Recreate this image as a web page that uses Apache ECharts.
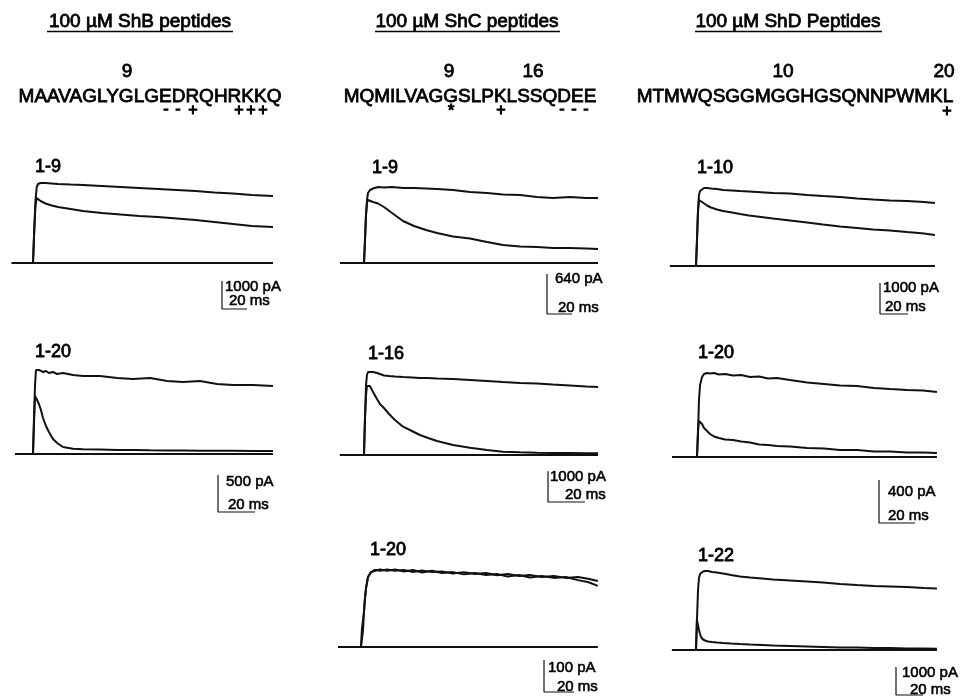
<!DOCTYPE html>
<html><head><meta charset="utf-8">
<script src="https://cdn.jsdelivr.net/npm/echarts/dist/echarts.min.js"></script>
<style>html,body{margin:0;padding:0;background:#fff}#c{width:960px;height:698px}</style>
</head><body><div id="c"></div><script>
// ---------- text content ----------
const columnTitles = ['100 µM ShB peptides', '100 µM ShC peptides', '100 µM ShD Peptides'];
const sequences = ['MAAVAGLYGLGEDRQHRKKQ', 'MQMILVAGGSLPKLSSQDEE', 'MTMWQSGGMGGHGSQNNPWMKL'];
const positionNumbers = ['9', '9', '16', '10', '20'];
const chargeMarks = ['-', '-', '+', '+', '+', '+', '*', '+', '-', '-', '-', '+'];
const panelLabels = ['1-9', '1-20', '1-9', '1-16', '1-20', '1-10', '1-20', '1-22'];
const scaleCurrent = [1000, 500, 640, 1000, 100, 1000, 400, 1000]; // pA
const scaleTime = [20, 20, 20, 20, 20, 20, 20, 20];                 // ms

// ---------- traces (time in ms, current in pA) ----------
// ShB 1-9
const p1Time = [-17, 0, 1, 2, 3, 4, 6, 10, 15, 20, 30, 40, 55, 70, 85, 100, 115, 130, 145, 160, 175, 192];
const p1Control = [0, 0, 1178, 2249, 2713, 2820, 2856, 2856, 2838, 2820, 2802, 2785, 2749, 2713, 2678, 2642, 2606, 2570, 2517, 2481, 2428, 2392];
const p1Peptide = [0, 0, 1178, 2071, 2321, 2285, 2213, 2124, 2053, 1999, 1928, 1856, 1785, 1731, 1678, 1642, 1589, 1535, 1464, 1392, 1321, 1285];
// ShB 1-20
const p2Time = [-9.7, 0, 0.5, 1.1, 1.6, 2.2, 3.2, 4.3, 5.4, 7, 8.6, 10.8, 13, 16.2, 21.6, 27, 36.2, 45.4, 54, 63.2, 72.4, 81, 90.2, 99.4, 108, 118.8, 129.6];
const p2Control = [0, 0, 459, 932, 1134, 1148, 1134, 1121, 1107, 1121, 1094, 1107, 1080, 1094, 1067, 1053, 1053, 1026, 1013, 1026, 986, 972, 986, 945, 932, 932, 918];
const p2Peptide = [0, 0, 392, 783, 756, 729, 675, 594, 486, 378, 297, 203, 149, 95, 72, 64, 61, 54, 54, 50, 47, 47, 45, 45, 45, 41, 41];
// ShC 1-9
const p3Time = [-19.2, 0, 0.8, 1.6, 2.4, 3.2, 4.8, 7.2, 11.2, 16, 22.4, 31.2, 40, 49.6, 58.4, 71.2, 84.8, 98.4, 111.2, 124.8, 138.4, 151.2, 164.8, 177.6, 187.2];
const p3Control = [0, 0, 368, 768, 1008, 1120, 1168, 1192, 1216, 1208, 1216, 1200, 1200, 1192, 1184, 1168, 1136, 1120, 1096, 1088, 1056, 1040, 1056, 1040, 1040];
const p3Peptide = [0, 0, 368, 768, 960, 1008, 1000, 976, 952, 896, 800, 672, 592, 528, 480, 424, 392, 336, 288, 264, 256, 240, 240, 232, 224];
// ShC 1-16
const p4Time = [-13, 0, 0.5, 1.1, 1.6, 2.2, 3.2, 4.9, 7, 8.6, 10.8, 13.5, 16.7, 21.1, 25.9, 30.2, 34.6, 39.4, 48.1, 57.2, 66.4, 75, 84.2, 93.4, 102, 111.2, 119.9, 126.4];
const p4Control = [0, 0, 1141, 2282, 2608, 2706, 2722, 2706, 2673, 2641, 2592, 2575, 2559, 2543, 2526, 2510, 2510, 2494, 2478, 2445, 2412, 2380, 2347, 2331, 2299, 2266, 2233, 2217];
const p4Peptide = [0, 0, 1141, 1956, 2249, 2314, 2249, 2054, 1826, 1662, 1532, 1337, 1141, 924, 782, 652, 554, 456, 326, 238, 163, 108, 88, 75, 65, 65, 55, 55];
// ShC 1-20
const p5Time = [-16, -0.7, 0, 0.7, 1.3, 2, 2.7, 4, 6, 8.7, 12, 16.7, 22, 28, 34, 40, 46.7, 53.3, 60.7, 68, 75.3, 82.7, 90, 97.3, 104.7, 112, 120, 128, 136, 144, 150.7, 157.3];
const p5Control = [0, 0, 0, 53, 109, 153, 184, 219, 234, 241, 238, 242, 238, 241, 234, 239, 234, 236, 230, 234, 228, 231, 224, 228, 222, 225, 219, 222, 216, 219, 213, 206];
const p5Peptide = [0, 0, 59, 59, 109, 153, 184, 219, 234, 238, 242, 238, 242, 236, 241, 233, 238, 231, 234, 227, 231, 225, 228, 220, 225, 217, 222, 216, 219, 209, 203, 191];
// ShD 1-10
const p6Time = [-18.6, 0, 0.7, 1.4, 2.1, 2.9, 4.3, 5.7, 7.9, 10.7, 15, 19.3, 25.7, 31.4, 37.8, 43.6, 55, 67.1, 79.3, 90.7, 102.8, 115, 126.4, 138.5, 150.7, 162.8, 170.6];
const p6Control = [0, 0, 840, 1744, 2293, 2423, 2487, 2519, 2519, 2503, 2487, 2455, 2439, 2423, 2406, 2390, 2358, 2342, 2293, 2261, 2229, 2180, 2148, 2116, 2100, 2067, 2035];
const p6Peptide = [0, 0, 840, 1744, 2132, 2132, 2067, 2019, 1954, 1890, 1825, 1777, 1728, 1680, 1631, 1599, 1534, 1470, 1405, 1340, 1276, 1227, 1179, 1147, 1098, 1050, 1001];
// ShD 1-20
const p7Time = [-13.9, 0, 0.6, 1.1, 1.7, 2.8, 3.9, 5.6, 7.2, 9.5, 12.2, 15.6, 20, 24.5, 29.5, 34.5, 39.5, 44.5, 51.7, 61.2, 70.6, 79.5, 89, 98.4, 107.3, 116.8, 125.7, 133.4];
const p7Control = [0, 0, 251, 530, 670, 744, 772, 781, 777, 781, 767, 772, 758, 763, 744, 749, 730, 735, 716, 693, 679, 665, 660, 642, 632, 623, 618, 605];
const p7Peptide = [0, 0, 251, 335, 344, 307, 270, 242, 214, 191, 177, 163, 158, 144, 135, 116, 112, 102, 98, 84, 79, 65, 65, 51, 51, 42, 42, 37];
// ShD 1-22
const p8Time = [-17.8, 0, 0.7, 1.5, 2.2, 3, 3.7, 5.2, 6.7, 8.9, 11.8, 15.5, 20, 25.9, 32.6, 40, 48.8, 57, 69.6, 82.1, 94, 106.6, 119.1, 131.7, 143.6, 156.1, 168.7, 178.3];
const p8Control = [0, 0, 1071, 2142, 2570, 2713, 2767, 2802, 2820, 2820, 2784, 2767, 2731, 2678, 2624, 2588, 2552, 2517, 2481, 2445, 2410, 2356, 2320, 2285, 2267, 2249, 2213, 2196];
const p8Peptide = [0, 0, 1071, 1000, 714, 571, 464, 375, 339, 303, 286, 268, 250, 232, 214, 196, 178, 161, 143, 125, 107, 89, 89, 71, 71, 54, 54, 46];

// ---------- layout (pixels) ----------
const W = 960, H = 698;
const FONT = '"Liberation Sans", Arial, Helvetica, sans-serif';
const layout = [
  {onset: 33,  base: 263, msPx: 0.8,   pAPx: 35.7,  barX: 222, barY: 309, label: [35, 167],  pA: [225, 287], ms: [229, 301]},
  {onset: 33,  base: 454, msPx: 0.54,  pAPx: 13.5,  barX: 218, barY: 512, label: [35, 352],  pA: [226, 482], ms: [228, 505]},
  {onset: 364, base: 263, msPx: 0.8,   pAPx: 16,    barX: 547, barY: 314, label: [372, 168], pA: [555, 279], ms: [558, 308]},
  {onset: 364, base: 455, msPx: 0.54,  pAPx: 32.6,  barX: 548, barY: 502, label: [368, 354], pA: [550, 477], ms: [565, 495]},
  {onset: 362, base: 647, msPx: 0.667, pAPx: 3.125, barX: 544, barY: 692, label: [370, 550], pA: [548, 668], ms: [557, 687]},
  {onset: 696, base: 266, msPx: 0.714, pAPx: 32.3,  barX: 880, barY: 314, label: [697, 168], pA: [883, 288], ms: [885, 307]},
  {onset: 697, base: 457, msPx: 0.556, pAPx: 9.3,   barX: 879, barY: 523, label: [698, 353], pA: [888, 492], ms: [888, 516]},
  {onset: 696, base: 650, msPx: 0.74,  pAPx: 35.7,  barX: 896, barY: 695, label: [698, 556], pA: [902, 673], ms: [910, 690]}
];
const times = [p1Time, p2Time, p3Time, p4Time, p5Time, p6Time, p7Time, p8Time];
const controls = [p1Control, p2Control, p3Control, p4Control, p5Control, p6Control, p7Control, p8Control];
const peptides = [p1Peptide, p2Peptide, p3Peptide, p4Peptide, p5Peptide, p6Peptide, p7Peptide, p8Peptide];

const grids = [], xAxes = [], yAxes = [], series = [];
layout.forEach((L, i) => {
  grids.push({left: 0, top: 0, width: W, height: H, show: false});
  xAxes.push({type: 'value', gridIndex: i, show: false, min: -L.onset * L.msPx, max: (W - L.onset) * L.msPx});
  yAxes.push({type: 'value', gridIndex: i, show: false, max: L.base * L.pAPx, min: -(H - L.base) * L.pAPx});
  const t = times[i];
  const common = {type: 'line', xAxisIndex: i, yAxisIndex: i, showSymbol: false, symbol: 'none', silent: true, animation: false};
  series.push(Object.assign({}, common, {name: 'baseline' + i, data: [[t[0], 0], [t[t.length - 1], 0]], lineStyle: {color: '#111', width: 1.8}}));
  series.push(Object.assign({}, common, {name: 'control' + i, data: t.map((v, j) => [v, controls[i][j]]), lineStyle: {color: '#111', width: 2}}));
  series.push(Object.assign({}, common, {name: 'peptide' + i, data: t.map((v, j) => [v, peptides[i][j]]), lineStyle: {color: '#111', width: 2}}));
  const bt = (L.barX - L.onset) * L.msPx, by = -(L.barY - L.base) * L.pAPx;
  series.push(Object.assign({}, common, {name: 'scale' + i,
    data: [[bt, by + scaleCurrent[i]], [bt, by], [bt + scaleTime[i], by]], lineStyle: {color: '#111', width: 1.2}}));
});

function txt(text, x, y, size, align, weightStroke) {
  return {type: 'text', x: x, y: y, silent: true,
    style: {text: text, font: size + 'px ' + FONT, fill: '#000', textAlign: align || 'left', textVerticalAlign: 'middle',
      stroke: '#000', lineWidth: weightStroke == null ? 0.8 : weightStroke}};
}
const graphics = [];
// column titles + underlines
const titleX = [140, 467, 788];
const underline = [[47, 233], [375, 560], [695, 882]];
columnTitles.forEach((s, c) => {
  graphics.push(txt(s, titleX[c], 22, 19, 'center'));
  graphics.push({type: 'line', silent: true, shape: {x1: underline[c][0], y1: 31.5, x2: underline[c][1], y2: 31.5}, style: {stroke: '#000', lineWidth: 1.4}});
});
// sequences
const seqX = [150, 470, 795];
sequences.forEach((s, c) => graphics.push(txt(s, seqX[c], 97, 19, 'center')));
// residue numbers
const numPos = [[127, 72], [449, 72], [533, 72], [783, 72], [944, 72]];
positionNumbers.forEach((s, k) => graphics.push(txt(s, numPos[k][0], numPos[k][1], 19, 'center')));
// charge marks
const markPos = [[166, 110], [178, 110], [193, 111], [239, 111], [251, 111], [263, 111], [451, 112], [501, 111], [562, 110], [574, 110], [586, 110], [947, 112]];
chargeMarks.forEach((s, k) => graphics.push(txt(s, markPos[k][0], markPos[k][1], 16, 'center', 1)));
// panel labels and scale texts
layout.forEach((L, i) => {
  graphics.push(txt(panelLabels[i], L.label[0], L.label[1], 18, 'left'));
  graphics.push(txt(scaleCurrent[i] + ' pA', L.pA[0], L.pA[1], 15, 'left', 0.55));
  graphics.push(txt(scaleTime[i] + ' ms', L.ms[0], L.ms[1], 15, 'left', 0.55));
});

const chart = echarts.init(document.getElementById('c'), null, {renderer: 'canvas'});
chart.setOption({
  backgroundColor: '#fff',
  animation: false,
  grid: grids, xAxis: xAxes, yAxis: yAxes,
  series: series,
  graphic: graphics
});
</script></body></html>
